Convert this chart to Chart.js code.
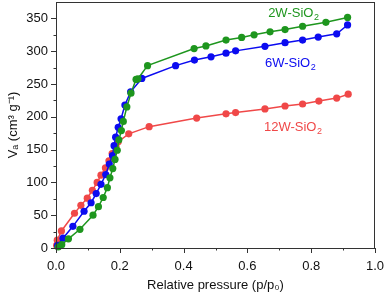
<!DOCTYPE html>
<html>
<head>
  <title>N2 isotherms</title>
  <script src="https://cdn.jsdelivr.net/npm/chart.js"></script>
  <style>
    body {
      margin: 0;
      padding: 0;
      background-color: white;
    }
    #wrap {
      width: 387px;
      height: 298px;
    }
  </style>
</head>
<body>
  <div id="wrap">
    <canvas id="isoChart" width="387" height="298"></canvas>
  </div>
  <script>
    // values (p/p0, cm3/g)
    const p2W = [0.007, 0.018, 0.039, 0.075, 0.116, 0.133, 0.148, 0.161, 0.169, 0.178, 0.185, 0.192, 0.197, 0.205, 0.211, 0.222, 0.235, 0.251, 0.257, 0.287, 0.433, 0.470, 0.533, 0.582, 0.621, 0.671, 0.718, 0.773, 0.846, 0.914];
    const v2W = [1.5, 5, 14, 28.5, 50, 63, 77, 92, 107, 121, 135, 149, 165, 179, 193, 215, 236, 257, 258, 278, 304, 308, 317, 321, 325, 329.5, 333, 338, 344, 351.5];

    const p6W = [0.005, 0.022, 0.053, 0.088, 0.110, 0.126, 0.141, 0.156, 0.167, 0.177, 0.182, 0.187, 0.195, 0.204, 0.216, 0.234, 0.269, 0.375, 0.434, 0.486, 0.533, 0.563, 0.655, 0.718, 0.773, 0.822, 0.880, 0.914];
    const v6W = [4, 15, 33, 56, 69, 83, 97, 112, 128, 141, 156, 169, 184, 197, 218, 238, 258.5, 278, 286.5, 291.5, 297, 300.5, 307.5, 313, 317, 321.5, 326.5, 340];

    const p12W = [0.002, 0.004, 0.017, 0.058, 0.078, 0.098, 0.114, 0.129, 0.141, 0.155, 0.166, 0.176, 0.188, 0.195, 0.228, 0.292, 0.441, 0.533, 0.563, 0.655, 0.718, 0.773, 0.824, 0.880, 0.916];
    const v12W = [4, 12, 26, 53, 65, 76, 88, 100, 111, 122, 133, 144, 155, 162, 174, 185, 198, 204.5, 206.5, 212, 216.5, 219.5, 224, 228.5, 234.5];

    const xTicks = [0, 0.2, 0.4, 0.6, 0.8, 1.0];
    const yTicks = [0, 50, 100, 150, 200, 250, 300, 350];

    const seriesNames = ['2W-SiO', '6W-SiO', '12W-SiO'];
    // where each name sits, in data units
    const namePos = [[0.665, 352], [0.655, 276], [0.652, 178]];

    const colors = ['#1e961e', '#0b0bf0', '#f04848'];

    function pairs(xs, ys) {
      return xs.map((x, i) => ({ x: x, y: ys[i] }));
    }

    function makeSet(label, data, color) {
      return {
        label: label,
        data: data,
        showLine: true,
        borderColor: color,
        backgroundColor: color,
        borderWidth: 1.5,
        pointRadius: 3.6,
        pointBorderWidth: 0,
        clip: false
      };
    }

    // outward major + minor ticks, frame box and series names
    const decorPlugin = {
      id: 'decor',
      afterDraw(chart) {
        const ctx = chart.ctx;
        const area = chart.chartArea;
        const xs = chart.scales.x;
        const ys = chart.scales.y;
        ctx.save();
        ctx.strokeStyle = '#333';
        ctx.lineWidth = 1;
        ctx.strokeRect(area.left + 0.5, area.top + 0.5, area.right - area.left - 1, area.bottom - area.top);
        ctx.beginPath();
        for (let i = 0; i <= 10; i++) {
          const px = Math.round(xs.getPixelForValue(i / 10)) + 0.5;
          const len = i % 2 === 0 ? 5 : 2.5;
          ctx.moveTo(px, area.bottom);
          ctx.lineTo(px, area.bottom + len);
        }
        for (let v = 0; v <= 350; v += 25) {
          const py = Math.round(ys.getPixelForValue(v)) + 0.5;
          const len = v % 50 === 0 ? 5 : 2.5;
          ctx.moveTo(area.left, py);
          ctx.lineTo(area.left - len, py);
        }
        ctx.stroke();

        ctx.textBaseline = 'alphabetic';
        ctx.textAlign = 'left';
        seriesNames.forEach((name, i) => {
          const px = xs.getPixelForValue(namePos[i][0]);
          const py = ys.getPixelForValue(namePos[i][1]);
          ctx.fillStyle = colors[i];
          ctx.font = '13px "Liberation Sans", Arial, sans-serif';
          ctx.fillText(name, px, py);
          const w = ctx.measureText(name).width;
          ctx.font = '9px "Liberation Sans", Arial, sans-serif';
          ctx.fillText('2', px + w + 0.5, py + 3);
        });
        ctx.restore();
      }
    };

    const ctx = document.getElementById('isoChart').getContext('2d');
    new Chart(ctx, {
      type: 'scatter',
      data: {
        datasets: [
          makeSet('2W-SiO2', pairs(p2W, v2W), colors[0]),
          makeSet('6W-SiO2', pairs(p6W, v6W), colors[1]),
          makeSet('12W-SiO2', pairs(p12W, v12W), colors[2])
        ]
      },
      options: {
        responsive: false,
        animation: false,
        events: [],
        layout: {
          autoPadding: false,
          padding: { top: 2, right: 12, left: 0, bottom: 0 }
        },
        plugins: {
          legend: { display: false },
          tooltip: { enabled: false }
        },
        scales: {
          x: {
            type: 'linear',
            min: 0,
            max: 1,
            grid: { display: false, drawTicks: false },
            border: { display: false },
            afterBuildTicks(scale) {
              scale.ticks = xTicks.map(v => ({ value: v }));
            },
            afterFit(scale) {
              scale.height = 50;
              scale.paddingLeft = 0;
              scale.paddingRight = 0;
            },
            ticks: {
              color: '#111',
              padding: 11,
              maxRotation: 0,
              font: { family: '"Liberation Sans", Arial, sans-serif', size: 13 },
              callback: v => v.toFixed(1)
            },
            title: {
              display: true,
              text: 'Relative pressure (p/p₀)',
              color: '#111',
              font: { family: '"Liberation Sans", Arial, sans-serif', size: 13 },
              padding: { top: 0, bottom: 5 }
            }
          },
          y: {
            type: 'linear',
            min: 0,
            max: 375,
            grid: { display: false, drawTicks: false },
            border: { display: false },
            afterBuildTicks(scale) {
              scale.ticks = yTicks.map(v => ({ value: v }));
            },
            afterFit(scale) {
              scale.width = 56;
              scale.paddingTop = 0;
              scale.paddingBottom = 0;
            },
            ticks: {
              color: '#111',
              padding: 8,
              font: { family: '"Liberation Sans", Arial, sans-serif', size: 13 }
            },
            title: {
              display: true,
              text: 'Vₐ (cm³ g⁻¹)',
              color: '#111',
              font: { family: '"Liberation Sans", Arial, sans-serif', size: 13 },
              padding: { top: 6, bottom: 0 }
            }
          }
        }
      },
      plugins: [decorPlugin]
    });
  </script>
</body>
</html>
